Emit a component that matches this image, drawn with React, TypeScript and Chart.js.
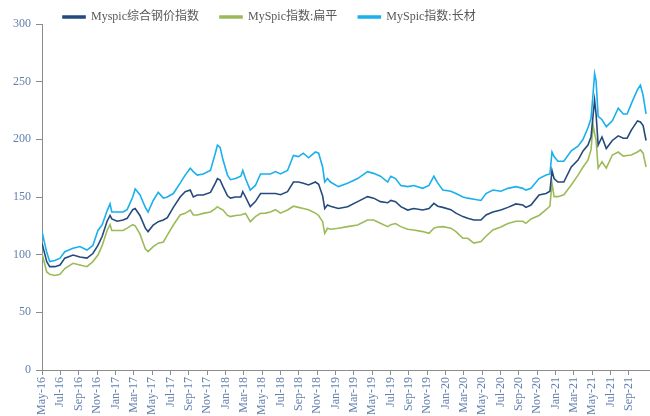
import React, { useEffect, useRef } from "react";
import { Chart, registerables } from "chart.js";

Chart.register(...registerables);

const dates: string[] = [
  "2016-05-01","2016-05-17","2016-05-27","2016-06-13","2016-06-30","2016-07-16","2016-08-13","2016-09-05","2016-09-28","2016-10-18",
  "2016-11-04","2016-11-18","2016-12-04","2016-12-14","2016-12-20","2017-01-07","2017-01-27","2017-02-09","2017-02-26","2017-03-06",
  "2017-03-22","2017-04-09","2017-04-18","2017-05-05","2017-05-22","2017-06-08","2017-06-21","2017-07-11","2017-08-03","2017-08-20",
  "2017-09-06","2017-09-16","2017-09-29","2017-10-19","2017-11-12","2017-11-28","2017-12-05","2017-12-14","2017-12-24","2018-01-08",
  "2018-01-18","2018-02-04","2018-02-20","2018-02-26","2018-03-07","2018-03-23","2018-04-09","2018-04-26","2018-05-12","2018-05-29",
  "2018-06-15","2018-07-01","2018-07-25","2018-08-14","2018-08-31","2018-09-16","2018-10-03","2018-10-26","2018-11-06","2018-11-19",
  "2018-11-26","2018-12-05","2018-12-15","2019-01-11","2019-02-10","2019-03-14","2019-04-16","2019-05-06","2019-05-29","2019-06-22",
  "2019-07-02","2019-07-18","2019-08-05","2019-08-28","2019-09-17","2019-10-17","2019-11-07","2019-11-23","2019-12-06","2019-12-23",
  "2020-01-19","2020-02-05","2020-02-27","2020-03-14","2020-04-04","2020-04-27","2020-05-14","2020-06-06","2020-07-02","2020-07-26",
  "2020-08-22","2020-09-14","2020-09-24","2020-10-11","2020-11-07","2020-11-30","2020-12-13","2020-12-20","2020-12-27","2021-01-09",
  "2021-01-29","2021-02-21","2021-03-15","2021-04-01","2021-04-17","2021-04-27","2021-05-04","2021-05-09","2021-05-14","2021-05-21",
  "2021-06-03","2021-06-17","2021-07-07","2021-07-27","2021-08-13","2021-08-26","2021-09-09","2021-09-29","2021-10-09","2021-10-18",
  "2021-10-28",
];

const composite: number[] = [
  110,94,89.6,89.6,91,97,99.7,98,97,101,
  108,116,129,134,131,129,130,131.5,139,140,
  134,123,120,125.7,128.6,130,132,141,150,154.6,
  156,150,151.7,151.7,154,162,166,164.7,159,151,
  149,150,150,154.6,150,141.6,146,153,153,153,
  153,152,154.6,163,163,162,160.4,163,161,151,
  140,143,142,140,141.6,146,150.3,149,146,145,
  147,146,141.6,138.7,140,138.7,140,144.5,142,141,
  139,136,133,131.5,130,130,134.4,137,138.7,141,
  144,143,141,143,151.7,153,155,173,166,163,
  163,176,182,190,195,202,221,234,222,195,
  202,192,199,203,201,201,208,216,215,212,
  199,
];

const flat: number[] = [
  101,85,83,82,83,88,92.5,91,89.6,94,
  99.7,108,121,126,121,121,121,123,126,125,
  118,105,102.6,107,110,111,117,125.7,134.4,135.8,
  138.7,134.4,134.4,135.8,137,140,141.6,140,138.7,134,
  133,134,134.4,135,135.8,128.6,133,135.8,136,137,
  139,136,138.7,142,141,140,139,136,134,128.6,
  118.5,122.9,122,122.9,124.3,125.7,130,130,127.2,124.3,
  126,127,124.3,122,121.4,120,118.5,122.9,124,124.3,
  123,120,114.2,114.2,110,111.3,116,121.4,124,127,
  129,129,127.2,131,134,139,142,162,150.3,150.3,
  152,160.4,169,176,182,190.8,212.4,205,199.4,175,
  180.6,175,186.4,189,185.5,186,186.4,189,190.8,188,
  176,
];

const longSteel: number[] = [
  120,102,94,95,97,102.6,105.5,107,104,108,
  121,126,138,144,137,137,137,139,150,157,
  152,141,137,147,154,149,150,153,162,169,
  175,172,169,170,173,188,195,193,182,169,
  165,166,168,173,166,156,160,170,170,170,
  172,170,173,186,185,188,184,189,188,176,
  163,166,163,159,162,166,172,170.5,168,163,
  168,166,160,159,160,157.5,160,168,162,156,
  155,153,150,149,148,147,153,156,155,157.5,
  159,157.5,156,157.5,166,169,170,189,185,181,
  181,190,194,200,210,218,240,257,251,220,
  217,211,216,227,222,222,231,243,247,238,
  222,
];

const tickLabels: string[] = [
  "May-16","Jul-16","Sep-16","Nov-16","Jan-17","Mar-17","May-17","Jul-17","Sep-17","Nov-17",
  "Jan-18","Mar-18","May-18","Jul-18","Sep-18","Nov-18","Jan-19","Mar-19","May-19","Jul-19",
  "Sep-19","Nov-19","Jan-20","Mar-20","May-20","Jul-20","Sep-20","Nov-20","Jan-21","Mar-21",
  "May-21","Jul-21","Sep-21",
];

const seriesNames: string[] = ["Myspic综合钢价指数", "MySpic指数:扁平", "MySpic指数:长材"];

function monthIndex(d: string): number {
  const [y, m, day] = d.split("-").map(Number);
  const dim = new Date(y, m, 0).getDate();
  return (y - 2016) * 12 + (m - 5) + (day - 1) / dim;
}

const FONT = '"Liberation Serif", "Times New Roman", "Noto Sans CJK SC", serif';

export default function App() {
  const ref = useRef<HTMLCanvasElement | null>(null);

  useEffect(() => {
    document.body.style.margin = "0";
    const canvas = ref.current;
    if (!canvas) return;
    const xs = dates.map(monthIndex);
    const mk = (vals: number[]) => vals.map((v, i) => ({ x: xs[i], y: v }));
    const colors = ["#254a7c", "#9bbb59", "#1ab0ec"];
    const seriesData = [composite, flat, longSteel];

    const legendFit = {
      id: "legendFit",
      beforeLayout(chart: any) {
        const lg = chart.legend;
        if (lg && !lg.__patched) {
          const f = lg.fit;
          lg.fit = function () {
            f.call(this);
            this.height = 34;
          };
          lg.__patched = true;
        }
      },
    };

    const chart = new Chart(canvas, {
      type: "line",
      data: {
        datasets: seriesNames.map((name, i) => ({
          label: name,
          data: mk(seriesData[i]),
          borderColor: colors[i],
          backgroundColor: colors[i],
          borderWidth: 1.6,
          pointRadius: 0,
          tension: 0,
        })),
      },
      options: {
        animation: false,
        responsive: false,
        layout: { padding: { top: -10, right: 0, bottom: 0, left: 0 } },
        plugins: {
          legend: {
            position: "top",
            align: "start",
            fullSize: false,
            labels: {
              boxWidth: 22,
              boxHeight: 2,
              padding: 21,
              color: "#595959",
              font: { family: FONT, size: 12 },
            },
          },
          tooltip: { enabled: false },
        },
        scales: {
          x: {
            type: "linear",
            min: 0,
            max: 66.3,
            afterBuildTicks: (scale: any) => {
              scale.ticks = tickLabels.map((_, i) => ({ value: i * 2 }));
            },
            afterFit: (scale: any) => {
              scale.height = 46;
            },
            ticks: {
              autoSkip: false,
              minRotation: 90,
              maxRotation: 90,
              padding: 2,
              color: "#6480ae",
              font: { family: FONT, size: 12 },
              callback: (_v: any, i: number) => tickLabels[i],
            },
            grid: { drawOnChartArea: false, drawTicks: true, tickLength: 5, color: "#8c8c8c" },
            border: { color: "#8c8c8c", width: 1 },
          },
          y: {
            min: 0,
            max: 300,
            afterFit: (scale: any) => {
              scale.width = 42;
            },
            ticks: {
              stepSize: 50,
              padding: 5,
              color: "#6480ae",
              font: { family: FONT, size: 12 },
            },
            grid: { drawOnChartArea: false, drawTicks: true, tickLength: 6, color: "#8c8c8c" },
            border: { color: "#8c8c8c", width: 1 },
          },
        },
      },
      plugins: [legendFit],
    });

    return () => chart.destroy();
  }, []);

  return <canvas ref={ref} width={650} height={416} style={{ display: "block" }} />;
}
